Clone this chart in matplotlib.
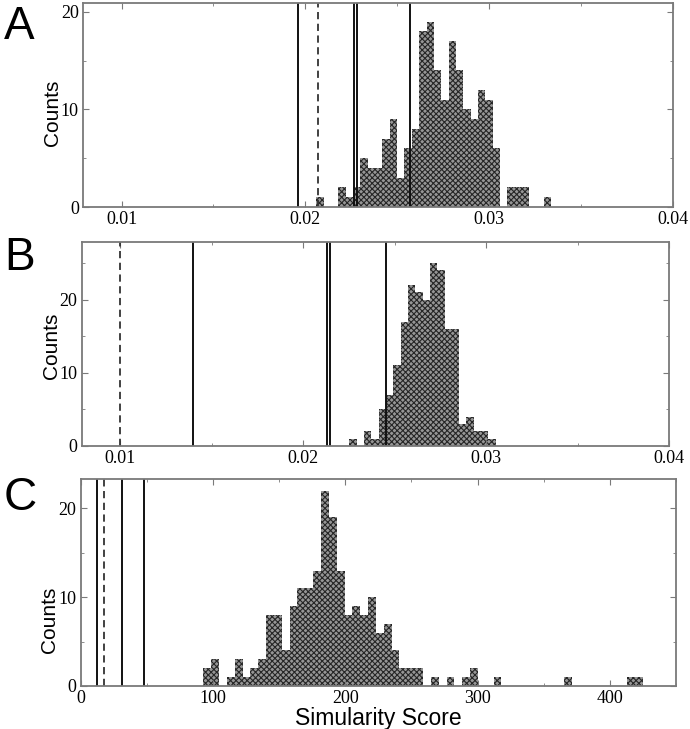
import matplotlib
matplotlib.use("Agg")
import matplotlib.pyplot as plt
from matplotlib.ticker import MultipleLocator, FormatStrFormatter

# histogram data: left edge of first bin, bin width, counts per bin
a_start, a_width = 0.0206, 0.0004
a_counts = [1, 0, 0, 2, 1, 2, 5, 4, 4, 7, 9, 3, 6, 8, 18, 19, 14, 11, 17, 14,
            10, 9, 12, 11, 6, 0, 2, 2, 2, 0, 0, 1]
a_solid = [0.0196, 0.02266, 0.02283, 0.0257]
a_dashed = [0.0207]

b_start, b_width = 0.02252, 0.0004
b_counts = [1, 0, 2, 1, 5, 7, 11, 17, 22, 21, 20, 25, 24, 16, 16, 3, 4, 2, 2, 1]
b_solid = [0.0140, 0.02129, 0.02147, 0.02453]
b_dashed = [0.0100]

c_start, c_width = 92.7, 5.93
c_counts = [2, 3, 0, 1, 3, 1, 2, 3, 8, 8, 4, 9, 11, 11, 13, 22, 19, 13, 8, 9,
            8, 10, 6, 7, 4, 2, 2, 2, 0, 1, 0, 1, 0, 1, 2, 0, 0, 1, 0, 0,
            0, 0, 0, 0, 0, 0, 1, 0, 0, 0, 0, 0, 0, 0, 1, 1]
c_solid = [12.1, 31.4, 48.1]
c_dashed = [17.8]

W, H = 690, 729
fig = plt.figure(figsize=(W / 100, H / 100), dpi=100)
plt.rcParams["hatch.linewidth"] = 0.8


def make_axes(left, right, top, bottom):
    return fig.add_axes([left / W, 1 - bottom / H, (right - left) / W, (bottom - top) / H])


def draw_panel(ax, start, width, counts, solid, dashed):
    lefts = [start + i * width for i in range(len(counts))]
    ax.bar(lefts, counts, width=width, align="edge", color="#969696",
           edgecolor="#262626", hatch="xxxxxx", linewidth=0)
    for x in solid:
        ax.axvline(x, color="#111111", lw=1.4)
    for x in dashed:
        ax.axvline(x, color="#333333", lw=1.3, ls=(0, (4, 2.5)))
    for s in ax.spines.values():
        s.set_color("#7a7a7a")
        s.set_linewidth(1.3)
    ax.tick_params(which="both", direction="in", top=True, right=True,
                   color="#7a7a7a", labelsize=13, pad=3)
    ax.tick_params(which="major", length=4)
    ax.tick_params(which="minor", length=2.5)
    ax.yaxis.set_major_locator(MultipleLocator(10))
    ax.yaxis.set_minor_locator(MultipleLocator(5))
    ax.set_ylabel("Counts", fontsize=15, family="Liberation Sans")


ax_a = make_axes(83, 672.7, 3, 207)
draw_panel(ax_a, a_start, a_width, a_counts, a_solid, a_dashed)
ax_a.set_xlim(0.0079, 0.04)
ax_a.set_ylim(0, 20.9)

ax_b = make_axes(81.7, 669.3, 241.7, 446)
draw_panel(ax_b, b_start, b_width, b_counts, b_solid, b_dashed)
ax_b.set_xlim(0.0079, 0.04)
ax_b.set_ylim(0, 27.9)

for ax in (ax_a, ax_b):
    ax.xaxis.set_major_locator(MultipleLocator(0.01))
    ax.xaxis.set_minor_locator(MultipleLocator(0.005))
    ax.xaxis.set_major_formatter(FormatStrFormatter("%.2f"))

ax_c = make_axes(80.7, 676, 479, 686)
draw_panel(ax_c, c_start, c_width, c_counts, c_solid, c_dashed)
ax_c.set_xlim(0, 450)
ax_c.set_ylim(0, 23.3)
ax_c.xaxis.set_major_locator(MultipleLocator(100))
ax_c.xaxis.set_minor_locator(MultipleLocator(50))
ax_c.set_xlabel("Simularity Score", fontsize=16.5, family="Liberation Sans", labelpad=0)

for ax in (ax_a, ax_b, ax_c):
    for lab in ax.get_xticklabels() + ax.get_yticklabels():
        lab.set_fontfamily("Liberation Serif")

ax_a.yaxis.set_label_coords(-0.036, 0.46)
ax_b.yaxis.set_label_coords(-0.036, 0.49)
ax_c.yaxis.set_label_coords(-0.036, 0.32)

for letter, y in (("A", 5), ("B", 236), ("C", 476)):
    fig.text(4 / W, 1 - y / H, letter, fontsize=33, family="Liberation Sans",
             va="top", ha="left")

fig.savefig("out.png", dpi=100)
